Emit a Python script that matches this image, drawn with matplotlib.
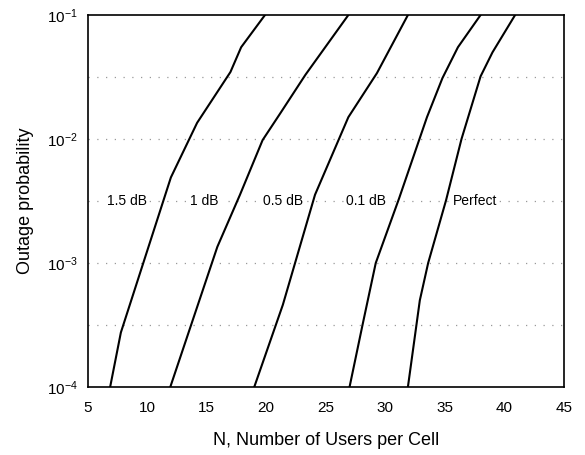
import matplotlib
matplotlib.use("Agg")
import matplotlib.pyplot as plt

plt.rcParams['font.family'] = ['Liberation Sans', 'DejaVu Sans']
plt.rcParams['mathtext.default'] = 'regular'

# curves: users per cell vs outage probability
n_15db = [6.9, 7.8, 12.0, 14.2, 17.0, 17.9, 19.9]
p_15db = [1e-4, 2.75e-4, 4.9e-3, 1.35e-2, 3.47e-2, 5.5e-2, 1e-1]

n_1db = [11.95, 15.9, 17.8, 19.7, 21.2, 23.3, 26.9]
p_1db = [1e-4, 1.35e-3, 3.55e-3, 9.8e-3, 1.62e-2, 3.3e-2, 1e-1]

n_05db = [19.0, 21.4, 24.1, 26.9, 29.3, 31.9]
p_05db = [1e-4, 4.6e-4, 3.55e-3, 1.5e-2, 3.4e-2, 1e-1]

n_01db = [27.0, 28.1, 29.2, 31.15, 33.5, 34.8, 36.1, 38.0]
p_01db = [1e-4, 3.2e-4, 1e-3, 3.3e-3, 1.5e-2, 3.1e-2, 5.5e-2, 1e-1]

n_perfect = [31.9, 32.9, 33.6, 35.1, 36.4, 38.0, 39.0, 40.9]
p_perfect = [1e-4, 5e-4, 1e-3, 3.2e-3, 1e-2, 3.2e-2, 5e-2, 1e-1]

curve_labels = ["1.5 dB", "1 dB", "0.5 dB", "0.1 dB", "Perfect"]
label_x = [8.3, 14.8, 21.4, 28.4, 37.5]
label_y = 10 ** -2.5

grid_levels = [10 ** -1.5, 1e-2, 10 ** -2.5, 1e-3, 10 ** -3.5]
x_ticks = [5, 10, 15, 20, 25, 30, 35, 40, 45]
y_ticks = [1e-4, 1e-3, 1e-2, 1e-1]

fig = plt.figure(figsize=(5.85, 4.55), dpi=100)
ax = fig.add_axes([0.1496, 0.1495, 0.8144, 0.8175])

# dotted grid at every half decade
for g in grid_levels:
    ax.axhline(g, color="#999999", lw=0.9, ls=(0, (1, 6)), zorder=0)

for n, p in [(n_15db, p_15db), (n_1db, p_1db), (n_05db, p_05db),
             (n_01db, p_01db), (n_perfect, p_perfect)]:
    ax.plot(n, p, color="black", lw=1.5, zorder=2)

for lab, x in zip(curve_labels, label_x):
    ax.text(x, label_y, lab, ha="center", va="center", fontsize=10,
            bbox=dict(facecolor="white", edgecolor="none", pad=1.5), zorder=3)

ax.set_yscale("log")
ax.set_xlim(5, 45)
ax.set_ylim(1e-4, 1e-1)
ax.set_xticks(x_ticks)
ax.set_yticks(y_ticks)
ax.minorticks_off()
ax.tick_params(length=0, labelsize=11)
ax.tick_params(axis="x", pad=10)
ax.tick_params(axis="y", pad=7)
for s in ax.spines.values():
    s.set_linewidth(1.2)

ax.set_xlabel("N, Number of Users per Cell", fontsize=13)
ax.set_ylabel("Outage probability", fontsize=13)
ax.xaxis.set_label_coords(0.5, -0.12)
ax.yaxis.set_label_coords(-0.112, 0.5)

fig.savefig("out.png", dpi=100)
